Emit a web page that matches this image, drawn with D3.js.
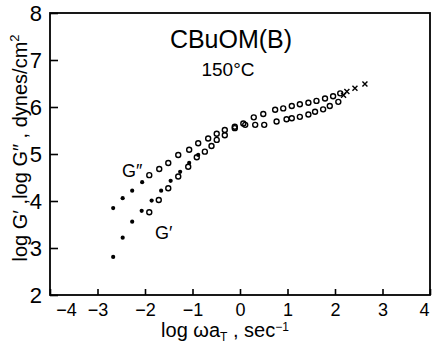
<!DOCTYPE html>
<html>
<head>
<meta charset="utf-8">
<script src="https://cdn.jsdelivr.net/npm/d3@7"></script>
<style>
  body { margin: 0; background: #fff; }
  text { font-family: "Liberation Sans", Arial, sans-serif; fill: #000; }
</style>
</head>
<body>
<div id="chart"></div>
<script>
var width = 434;
var height = 343;

// axis ticks
var xTicks = [-4, -3, -2, -1, 0, 1, 2, 3, 4];
var yTicks = [2, 3, 4, 5, 6, 7, 8];

// G'' (loss modulus): log(omega aT), log G'', marker
var gLossX = [-2.67, -2.47, -2.27, -2.06, -1.91, -1.70, -1.51, -1.30, -1.07, -0.88, -0.67, -0.49, -0.32, -0.11, 0.07, 0.29, 0.49, 0.74, 0.91, 1.09, 1.26, 1.44, 1.61, 1.79, 1.96, 2.11, 2.25, 2.42, 2.63];
var gLossY = [3.85, 4.06, 4.22, 4.40, 4.55, 4.68, 4.81, 4.98, 5.09, 5.23, 5.33, 5.43, 5.51, 5.58, 5.65, 5.78, 5.85, 5.94, 5.97, 6.02, 6.06, 6.09, 6.13, 6.18, 6.23, 6.29, 6.33, 6.40, 6.49];
var gLossM = ["dot", "dot", "dot", "dot", "circ", "circ", "circ", "circ", "circ", "circ", "circ", "circ", "circ", "circ", "circ", "circ", "circ", "circ", "circ", "circ", "circ", "circ", "circ", "circ", "circ", "circ", "cross", "cross", "cross"];

// G' (storage modulus)
var gStorX = [-2.67, -2.47, -2.27, -2.07, -1.91, -1.86, -1.71, -1.66, -1.51, -1.46, -1.30, -1.26, -1.09, -1.07, -0.91, -0.88, -0.74, -0.60, -0.49, -0.32, -0.11, 0.11, 0.32, 0.51, 0.77, 0.98, 1.09, 1.26, 1.44, 1.58, 1.75, 1.89, 2.07, 2.18];
var gStorY = [2.81, 3.22, 3.56, 3.79, 3.76, 4.01, 4.02, 4.22, 4.27, 4.43, 4.52, 4.62, 4.73, 4.81, 4.93, 4.98, 5.05, 5.17, 5.30, 5.40, 5.55, 5.62, 5.62, 5.62, 5.69, 5.74, 5.76, 5.79, 5.84, 5.90, 5.95, 6.02, 6.11, 6.25];
var gStorM = ["dot", "dot", "dot", "dot", "circ", "dot", "circ", "dot", "circ", "dot", "circ", "dot", "circ", "dot", "circ", "dot", "circ", "circ", "circ", "circ", "circ", "circ", "circ", "circ", "circ", "circ", "circ", "circ", "circ", "circ", "circ", "circ", "circ", "cross"];

function toPoints(xs, ys, ms) {
  return xs.map((x, i) => ({ x: x, y: ys[i], m: ms[i] }));
}

const svg = d3
  .select("#chart")
  .append("svg")
  .attr("width", width)
  .attr("height", height);

const xScale = d3.scaleLinear().domain([-4, 4]).range([50, 430]);
const yScale = d3.scaleLinear().domain([2, 8]).range([295, 13]);

// frame
svg
  .append("rect")
  .attr("x", xScale(-4))
  .attr("y", yScale(8))
  .attr("width", xScale(4) - xScale(-4))
  .attr("height", yScale(2) - yScale(8))
  .attr("fill", "none")
  .attr("stroke", "#000")
  .attr("stroke-width", 1.8);

// x axis, ticks pointing in
const xAxis = svg
  .append("g")
  .attr("transform", `translate(0,${yScale(2)})`)
  .call(
    d3
      .axisBottom(xScale)
      .tickValues(xTicks)
      .tickSize(-6)
      .tickSizeOuter(0)
      .tickPadding(8)
      .tickFormat((d) => (d < 0 ? "\u2212" + Math.abs(d) : d))
  );
xAxis.select(".domain").remove();
xAxis.selectAll("line").attr("stroke-width", 1.6);
xAxis
  .selectAll("text")
  .style("font-size", "18px")
  .attr("dx", (d) => (d === -4 ? 16 : d === 4 ? -6 : 0));

const yAxis = svg
  .append("g")
  .attr("transform", `translate(${xScale(-4)},0)`)
  .call(
    d3
      .axisLeft(yScale)
      .tickValues(yTicks)
      .tickSize(-8)
      .tickSizeOuter(0)
      .tickPadding(8)
      .tickFormat(d3.format("d"))
  );
yAxis.select(".domain").remove();
yAxis.selectAll("line").attr("stroke-width", 1.6);
yAxis.selectAll("text").style("font-size", "22px");

// markers
function drawSeries(points) {
  const g = svg.append("g");
  g.selectAll(".dot")
    .data(points.filter((p) => p.m === "dot"))
    .enter()
    .append("circle")
    .attr("cx", (d) => xScale(d.x))
    .attr("cy", (d) => yScale(d.y))
    .attr("r", 2.1)
    .attr("fill", "#000");
  g.selectAll(".circ")
    .data(points.filter((p) => p.m === "circ"))
    .enter()
    .append("circle")
    .attr("cx", (d) => xScale(d.x))
    .attr("cy", (d) => yScale(d.y))
    .attr("r", 2.5)
    .attr("fill", "none")
    .attr("stroke", "#000")
    .attr("stroke-width", 1.4);
  g.selectAll(".cross")
    .data(points.filter((p) => p.m === "cross"))
    .enter()
    .append("path")
    .attr("d", (d) => {
      const cx = xScale(d.x), cy = yScale(d.y), s = 2.5;
      return `M${cx - s},${cy - s}L${cx + s},${cy + s}M${cx - s},${cy + s}L${cx + s},${cy - s}`;
    })
    .attr("stroke", "#000")
    .attr("stroke-width", 1.4);
}

drawSeries(toPoints(gLossX, gLossY, gLossM));
drawSeries(toPoints(gStorX, gStorY, gStorM));

// annotations
svg.append("text")
  .attr("x", 231)
  .attr("y", 48)
  .style("text-anchor", "middle")
  .style("font-size", "25px")
  .text("CBuOM(B)");

svg.append("text")
  .attr("x", 228)
  .attr("y", 76)
  .style("text-anchor", "middle")
  .style("font-size", "19px")
  .text("150\u00b0C");

svg.append("text")
  .attr("x", 122)
  .attr("y", 177)
  .style("font-size", "18px")
  .text("G\u2033");

svg.append("text")
  .attr("x", 155)
  .attr("y", 239)
  .style("font-size", "18px")
  .text("G\u2032");

// axis labels
const xl = svg.append("text")
  .attr("x", 225)
  .attr("y", 337)
  .style("text-anchor", "middle")
  .style("font-size", "20px");
xl.append("tspan").text("log \u03c9a");
xl.append("tspan").attr("dy", 4).style("font-size", "12px").text("T");
xl.append("tspan").attr("dy", -4).text(" , sec");
xl.append("tspan").attr("dy", -6).style("font-size", "12px").text("\u22121");

const yl = svg.append("text")
  .attr("transform", "translate(27,148) rotate(-90)")
  .style("text-anchor", "middle")
  .style("font-size", "20px");
yl.append("tspan").text("log G\u2032 ,log G\u2033 , dynes/cm");
yl.append("tspan").attr("dy", -8).style("font-size", "13px").text("2");
</script>
</body>
</html>
